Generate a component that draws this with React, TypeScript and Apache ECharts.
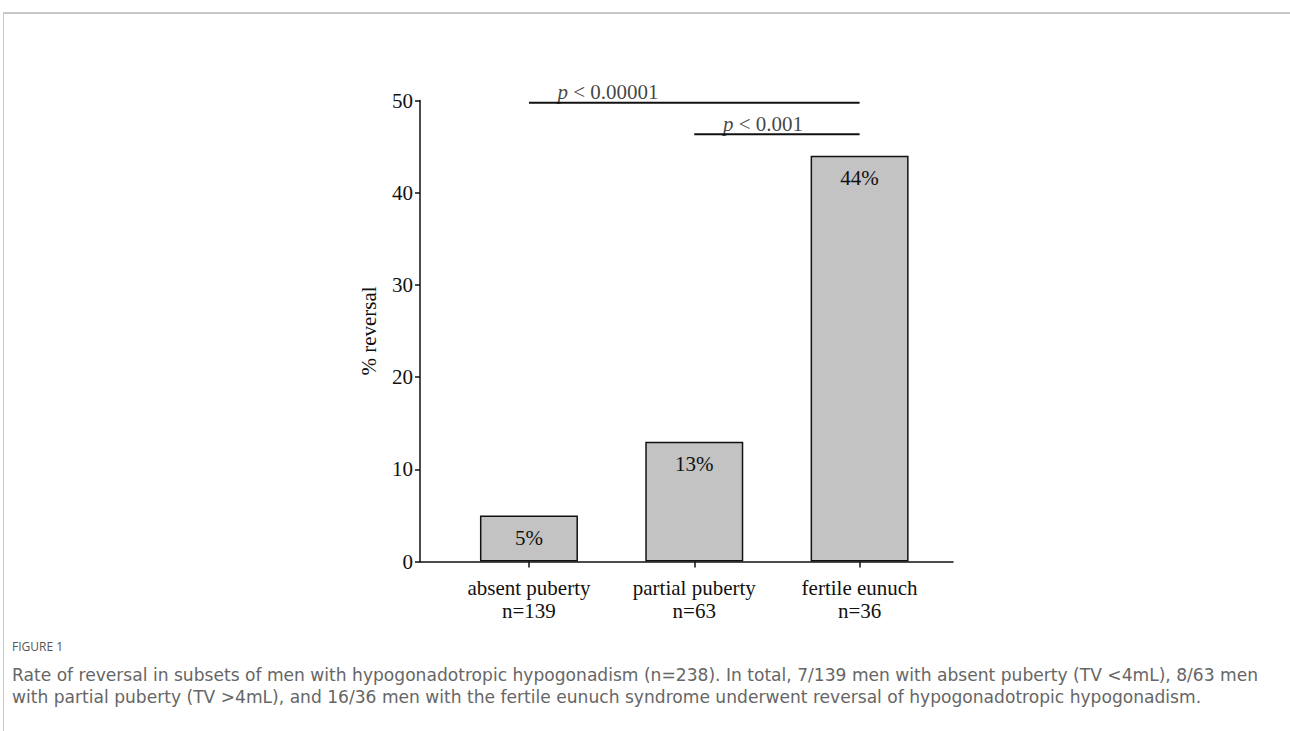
import React, { useEffect, useRef } from "react";
import * as echarts from "echarts";

const categories = ["absent puberty\nn=139", "partial puberty\nn=63", "fertile eunuch\nn=36"];
const categoryPositions = [1, 2, 3];
const reversalPct = [5, 13, 44];
const barLabels = ["5%", "13%", "44%"];
const yTicks = [0, 10, 20, 30, 40, 50];
const sigLine1 = { from: 1, to: 3, y: 49.76, textX: 1.478, text: "p < 0.00001" };
const sigLine2 = { from: 2, to: 3, y: 46.33, textX: 2.416, text: "p < 0.001" };
const captionTitle = "FIGURE 1";
const captionLines = [
  "Rate of reversal in subsets of men with hypogonadotropic hypogonadism (n=238). In total, 7/139 men with absent puberty (TV <4mL), 8/63 men",
  "with partial puberty (TV >4mL), and 16/36 men with the fertile eunuch syndrome underwent reversal of hypogonadotropic hypogonadism.",
];

const SERIF = "'Liberation Serif', 'Times New Roman', serif";
const FS = 21;

export default function App() {
  const ref = useRef<HTMLDivElement>(null);
  useEffect(() => {
    if (!ref.current) return;
    const chart = echarts.init(ref.current, null, { renderer: "svg" });
    const sigText = (t: string) => "{i|p}{n|" + t.slice(1) + "}";
    const richP = {
      i: { fontFamily: SERIF, fontSize: FS, fontStyle: "italic", color: "#111" },
      n: { fontFamily: SERIF, fontSize: FS, color: "#111" },
    };
    chart.setOption({
      animation: false,
      backgroundColor: "#fff",
      grid: { left: 420, top: 100.5, width: 533, height: 461, containLabel: false },
      xAxis: {
        type: "value",
        min: 0.341,
        max: 3.565,
        splitLine: { show: false },
        axisLine: { show: true, lineStyle: { color: "#111", width: 1.5 } },
        axisTick: { show: true, customValues: categoryPositions, length: 6, lineStyle: { color: "#111", width: 1.5 } },
        axisLabel: {
          customValues: categoryPositions,
          formatter: (v: number) => categories[categoryPositions.indexOf(Math.round(v))] ?? "",
          fontFamily: SERIF,
          fontSize: FS,
          color: "#111",
          lineHeight: 23,
          margin: 15,
        },
      },
      yAxis: {
        type: "value",
        min: 0,
        max: 50,
        interval: 10,
        name: "% reversal",
        nameLocation: "middle",
        nameGap: 41,
        nameTextStyle: { fontFamily: SERIF, fontSize: FS, color: "#111" },
        splitLine: { show: false },
        axisLine: { show: true, lineStyle: { color: "#111", width: 1.5 } },
        axisTick: { show: true, length: 5, lineStyle: { color: "#111", width: 1.5 } },
        axisLabel: {
          fontFamily: SERIF,
          fontSize: FS,
          color: "#111",
          margin: 7,
          formatter: (v: number) => (yTicks.includes(v) ? String(v) : ""),
        },
      },
      series: [
        {
          type: "bar",
          barWidth: 98,
          data: categoryPositions.map((x, i) => [x, reversalPct[i]]),
          itemStyle: { color: "#c3c3c3", borderColor: "#111", borderWidth: 1.5 },
          label: {
            show: true,
            position: "insideTop",
            distance: 12,
            fontFamily: SERIF,
            fontSize: FS,
            color: "#111",
            formatter: (p: any) => barLabels[p.dataIndex],
          },
        },
        {
          type: "line",
          symbol: "none",
          lineStyle: { color: "#111", width: 2 },
          data: [[sigLine1.from, sigLine1.y], [sigLine1.to, sigLine1.y]],
        },
        {
          type: "line",
          symbol: "none",
          lineStyle: { color: "#111", width: 2 },
          data: [[sigLine2.from, sigLine2.y], [sigLine2.to, sigLine2.y]],
        },
        {
          type: "scatter",
          symbolSize: 0,
          data: [[sigLine1.textX, sigLine1.y], [sigLine2.textX, sigLine2.y]],
          label: {
            show: true,
            position: "top",
            distance: 0,
            formatter: (p: any) => sigText(p.dataIndex === 0 ? sigLine1.text : sigLine2.text),
            rich: richP,
          },
        },
      ],
      graphic: [
        { type: "line", shape: { x1: 3, y1: 13, x2: 1290, y2: 13 }, style: { stroke: "#c8c8c8", lineWidth: 2 } },
        { type: "line", shape: { x1: 3.5, y1: 13, x2: 3.5, y2: 731 }, style: { stroke: "#c8c8c8", lineWidth: 1 } },
        {
          type: "text",
          left: 12,
          top: 640,
          style: { text: captionTitle, font: "500 12px 'Open Sans', sans-serif", fill: "#555" },
        },
        ...captionLines.map((line, i) => ({
          type: "text",
          left: 12,
          top: 666 + i * 22,
          style: {
            text: line,
            font: "17.1px 'DejaVu Sans', sans-serif",
            fill: "#666",
          },
        })),
      ],
    });
    return () => chart.dispose();
  }, []);
  return <div ref={ref} style={{ position: "fixed", left: 0, top: 0, width: 1290, height: 731 }} />;
}
